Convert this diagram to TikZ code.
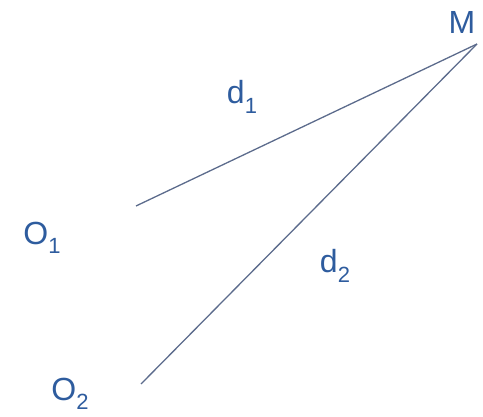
\documentclass[tikz,border=0pt]{standalone}
\usepackage{fontspec}
\setmainfont{Liberation Sans}
\definecolor{labelblue}{HTML}{2E5C9E}
\definecolor{lineblue}{HTML}{5C6B8C}
\newcommand{\lowsub}[1]{\raisebox{-0.3em}{\fontsize{22}{26}\selectfont #1}}
\begin{document}
\begin{tikzpicture}[x=1pt,y=-1pt]
\tikzstyle{every node}+=[text=labelblue,font=\fontsize{32}{38}\selectfont,inner sep=0pt]
\tikzstyle{segment}=[draw=lineblue,line width=1.3pt]
\useasboundingbox (0,0) rectangle (483,417);

\coordinate (m)  at (477,44);
\coordinate (o1) at (136,206);
\coordinate (o2) at (141,384);

\node (M)  at (462,22)  {M};
\node (O1) at (42,238)  {O\lowsub{1}};
\node (O2) at (70,394)  {O\lowsub{2}};
\node (d1) at (242,97)  {d\lowsub{1}};
\node (d2) at (335,266) {d\lowsub{2}};

\path (m) edge[segment] (o1)
          edge[segment] (o2);
\end{tikzpicture}
\end{document}
